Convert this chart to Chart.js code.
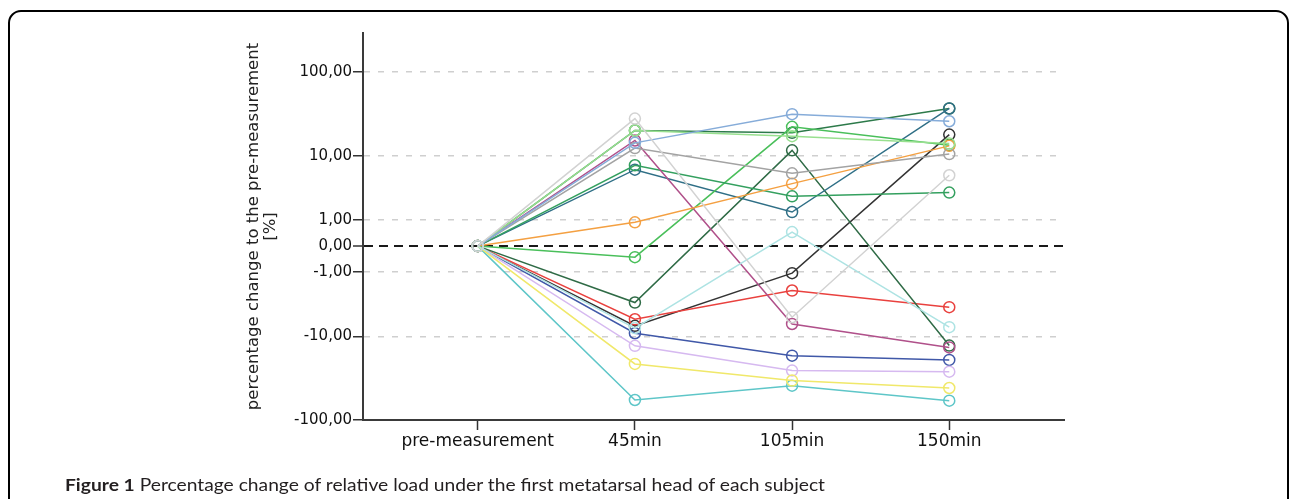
<!DOCTYPE html>
<html>
<head>
<meta charset="utf-8">
<script src="https://cdn.jsdelivr.net/npm/chart.js@4.4.1/dist/chart.umd.min.js"></script>
<style>
  html, body { margin: 0; padding: 0; background: #fff; width: 1290px; height: 499px; overflow: hidden; }
  #frame { position: absolute; left: 8px; top: 10px; width: 1281px; height: 600px; box-sizing: border-box;
           border: 2px solid #000; border-radius: 13px; }
  #wrap { position: absolute; left: 0; top: 0; width: 1290px; height: 499px; }
  #caption { position: absolute; left: 65px; top: 474px; white-space: nowrap; font-family: Lato, "Open Sans", sans-serif;
             font-size: 17px; color: #231f20; transform-origin: 0 50%; line-height: 22px; }
  #caption b { font-weight: 700; }
</style>
</head>
<body>
<div id="frame"></div>
<div id="wrap"><canvas id="c" width="1290" height="499"></canvas></div>
<div id="caption"><b>Figure 1</b> Percentage change of relative load under the first metatarsal head of each subject</div>
<script>
// ---------- data ----------
const categories = ['pre-measurement', '45min', '105min', '150min'];
const yTickValues = [100, 10, 1, 0, -1, -10, -100];
const yTickLabels = ['100,00', '10,00', '1,00', '0,00', '-1,00', '-10,00', '-100,00'];
const yAxisTitle = ['percentage change to the pre-measurement', '[%]'];

const lightBlue  = [0, 14.5, 32.2, 26.5];
const darkGreenA = [0, 20.5, 19.2, 37.6];
const lightGreen = [0, 20.5, 17.5, 14.2];
const magenta    = [0, 15.5, -6.9, -13.7];
const gray       = [0, 12.5, 5.9, 10.5];
const lightGray  = [0, 28.5, -5.6, 5.55];
const tealGreen  = [0, 7.55, 2.75, 3.14];
const darkTeal   = [0, 6.6, 1.47, 37.6];
const orange     = [0, 0.88, 4.25, 13.3];
const midGreen   = [0, -0.34, 22.7, 13.5];
const darkGreenB = [0, -3.47, 11.7, -13.0];
const red        = [0, -5.97, -2.25, -4.06];
const black      = [0, -7.3, -1.05, 18.3];
const lightCyan  = [0, -7.8, 0.45, -7.6];
const darkBlue   = [0, -9.1, -17.3, -19.5];
const lavender   = [0, -13.1, -26.2, -27.0];
const yellow     = [0, -21.8, -34.5, -42.2];
const turquoise  = [0, -58.4, -39.6, -59.5];

const seriesList = [
  [lightGray, '#d2d2d2'], [lightCyan, '#ade3e3'], [lightBlue, '#86acd9'], [lightGreen, '#98e08f'],
  [gray, '#a3a3a3'], [orange, '#f4a042'], [yellow, '#f0e86a'], [lavender, '#d6b9f0'],
  [turquoise, '#5ec6c8'], [magenta, '#b0508a'], [tealGreen, '#34a05f'], [midGreen, '#49bf5a'],
  [darkTeal, '#2f6f86'], [darkGreenA, '#2d7a4a'], [darkGreenB, '#2f6b46'], [red, '#e9413e'],
  [darkBlue, '#4058a8'], [black, '#333333']
];

// ---------- custom scale: sign(v)*log10(1+|v|) ----------
const fwd = v => Math.sign(v) * Math.log10(1 + Math.abs(v));
const inv = t => Math.sign(t) * (Math.pow(10, Math.abs(t)) - 1);
class SymLog1Scale extends Chart.LinearScale {
  getPixelForValue(value) {
    const a = fwd(this.min), b = fwd(this.max);
    return this.getPixelForDecimal((fwd(value) - a) / (b - a));
  }
  getValueForPixel(pixel) {
    const a = fwd(this.min), b = fwd(this.max);
    return inv(a + this.getDecimalForPixel(pixel) * (b - a));
  }
}
SymLog1Scale.id = 'symlog1';
SymLog1Scale.defaults = Chart.LinearScale.defaults;
Chart.register(SymLog1Scale);

const datasets = seriesList.map(([vals, col]) => ({
  data: vals.map((v, i) => ({ x: i, y: v })),
  borderColor: col,
  borderWidth: 1.5,
  pointRadius: 5.5,
  pointBorderWidth: 1.5,
  pointBorderColor: col,
  pointBackgroundColor: 'rgba(0,0,0,0)',
  fill: false,
  tension: 0
}));

new Chart(document.getElementById('c'), {
  type: 'line',
  data: { datasets },
  options: {
    responsive: false,
    devicePixelRatio: 1,
    animation: false,
    events: [],
    layout: { padding: { left: 245, right: 226, top: 33, bottom: 39 } },
    plugins: { legend: { display: false }, tooltip: { enabled: false } },
    scales: {
      x: {
        type: 'linear',
        min: -0.73, max: 3.73,
        afterBuildTicks: s => { s.ticks = categories.map((c, i) => ({ value: i })); },
        afterFit: s => { s.height = 40; },
        ticks: {
          autoSkip: false, maxRotation: 0, padding: 1,
          color: '#111', font: { family: 'DejaVu Sans', size: 17 },
          callback: (v, i) => categories[i]
        },
        grid: { drawOnChartArea: false, drawTicks: true, tickLength: 10, tickColor: '#333', tickWidth: 1.5 },
        border: { display: true, color: '#3a3a3a', width: 2 }
      },
      y: {
        type: 'symlog1',
        min: -100, max: 285,
        afterBuildTicks: s => { s.ticks = yTickValues.map(v => ({ value: v })); },
        afterFit: s => { s.width = 118; },
        ticks: {
          autoSkip: false, padding: 1,
          color: '#111', font: { family: 'DejaVu Sans', size: 15 },
          callback: (v, i) => yTickLabels[i]
        },
        title: {
          display: true, text: yAxisTitle, padding: 0,
          color: '#222', font: { family: 'DejaVu Sans', size: 16.5, lineHeight: 1.05 }
        },
        grid: {
          drawOnChartArea: true, drawTicks: true, tickLength: 10, tickColor: '#333', tickWidth: 1.5,
          color: c => (c.tick && c.tick.value === 0) ? '#1a1a1a' : (c.tick && c.tick.value === -100 ? 'rgba(0,0,0,0)' : '#cfcfcf'),
          lineWidth: c => (c.tick && c.tick.value === 0) ? 2 : 1.5
        },
        border: {
          display: true, color: '#3a3a3a', width: 2,
          dash: c => (c.tick && c.tick.value === 0) ? [9, 6] : [6, 8]
        }
      }
    }
  }
});

// fit caption width to the reference
(function fitCaption() {
  const cap = document.getElementById('caption');
  const w = cap.getBoundingClientRect().width;
  if (w > 0) cap.style.transform = 'scaleX(' + (760 / w) + ')';
})();
</script>
</body>
</html>
